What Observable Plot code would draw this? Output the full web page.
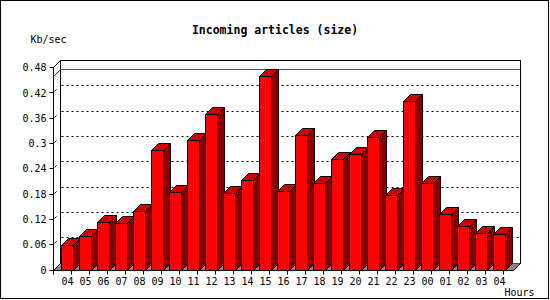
<!DOCTYPE html>
<html>
<head>
<meta charset="utf-8">
<script src="https://cdn.jsdelivr.net/npm/d3@7"></script>
<script src="https://cdn.jsdelivr.net/npm/@observablehq/plot@0.6"></script>
<style>
  html, body { margin: 0; padding: 0; background: white; }
</style>
</head>
<body>
<div id="chart"></div>
<script>
const hours = ["04","05","06","07","08","09","10","11","12","13","14","15","16","17","18","19","20","21","22","23","00","01","02","03","04"];
const kbPerSec = [0.057,0.080,0.113,0.111,0.139,0.284,0.184,0.307,0.369,0.182,0.213,0.459,0.187,0.319,0.206,0.262,0.274,0.314,0.177,0.400,0.206,0.132,0.102,0.087,0.083];
const yTickValues = [0,0.06,0.12,0.18,0.24,0.3,0.36,0.42,0.48];
const yTickLabels = ["0","0.06","0.12","0.18","0.24","0.3","0.36","0.42","0.48"];
const titleText = "Incoming articles (size)";
const yLabel = "Kb/sec";
const xLabel = "Hours";

const data = hours.map((h, i) => ({i, h, v: kbPerSec[i]}));
const maxV = d3.max(kbPerSec);
const FONT = "DejaVu Sans Mono";

function scene(index, scales, values, dim) {
  const X = scales.x, Y = scales.y;
  const px = v => Math.floor(v) + 0.5;
  const bw = X.bandwidth ? X.bandwidth() : 12;
  const step = X.step ? X.step() : 18.4;
  const D = 7;
  const xL = dim.marginLeft, xR = dim.width - dim.marginRight;
  const y0 = px(Y(0)), yT = px(Y(yTickValues[yTickValues.length - 1]));
  const aL = px(xL), aR = px(xR);
  const g = d3.create("svg:g");
  const poly = (pts, fill, stroke) => g.append("polygon")
    .attr("points", pts.map(p => p.join(",")).join(" "))
    .attr("fill", fill).attr("stroke", stroke || "none").attr("stroke-width", 1);
  const line = (x1, y1, x2, y2, stroke, dash) => {
    const l = g.append("line").attr("x1", x1).attr("y1", y1).attr("x2", x2).attr("y2", y2)
      .attr("stroke", stroke).attr("stroke-width", 1);
    if (dash) l.attr("stroke-dasharray", dash);
    return l;
  };
  // outer border
  g.append("rect").attr("x", 0.5).attr("y", 0.5).attr("width", 548).attr("height", 298)
    .attr("fill", "none").attr("stroke", "black");
  // back wall
  g.append("rect").attr("x", aL + D).attr("y", yT - D).attr("width", aR - aL).attr("height", y0 - yT)
    .attr("fill", "white").attr("stroke", "black");
  // gridlines on back wall
  yTickValues.slice(1, -1).forEach(v => {
    const yy = px(Y(v)) - D;
    line(aL + D + 1, yy, aR + D, yy, "black", "2,3");
    line(aL + 1, px(Y(v)) - 1, aL + 3, px(Y(v)) - 3, "black");
  });
  // max line
  const ym = px(Y(maxV));
  line(aL + D, ym - D, aR + D, ym - D, "red");
  line(aL, ym, aL + D, ym - D, "red");
  // floor
  poly([[aL, y0], [aR, y0], [aR + D, y0 - D], [aL + D, y0 - D]], "#888888", "none");
  line(aR, y0, aR + D, y0 - D, "black");
  line(aL, y0, aL + D, y0 - D, "black");
  line(aL, yT, aL + D, yT - D, "black");
  // bars
  index.forEach(k => {
    const d = data[k];
    const x0 = px(X(d.i)), x1 = px(X(d.i) + bw);
    const yt = px(Y(d.v));
    poly([[x1, yt], [x1 + D, yt - D], [x1 + D, y0 - D], [x1, y0]], "#800000", "black");
    poly([[x0, yt], [x1, yt], [x1 + D, yt - D], [x0 + D, yt - D]], "#cc0000", "black");
    g.append("rect").attr("x", x0).attr("y", yt).attr("width", x1 - x0).attr("height", y0 - yt)
      .attr("fill", "#ff0000").attr("stroke", "black");
  });
  // axes
  line(aL, yT, aL, y0, "black");
  line(aL, y0, aR, y0, "black");
  yTickValues.forEach(v => line(aL - 4, px(Y(v)), aL, px(Y(v)), "black"));
  for (let i = 0; i <= hours.length; i++) {
    const xb = px(xL + i * step);
    line(xb, y0, xb, y0 + 4, "black");
  }
  return g.node();
}

const chart = Plot.plot({
  width: 550,
  height: 300,
  marginLeft: 53,
  marginRight: 37,
  marginTop: 67.5,
  marginBottom: 30,
  style: {fontFamily: FONT, fontSize: "10px", background: "white", color: "black"},
  x: {type: "band", domain: d3.range(hours.length), paddingInner: 0.35, paddingOuter: 0.175, axis: null},
  y: {domain: [0, 0.48], axis: null},
  marks: [
    Plot.barY(data, {x: "i", y: "v", render: scene}),
    Plot.text(yTickValues, {y: d => d, text: (d, i) => yTickLabels[i], frameAnchor: "left", dx: -7, textAnchor: "end", fill: "black"}),
    Plot.text(data, {x: "i", text: "h", frameAnchor: "bottom", dy: 14.5, lineAnchor: "bottom", fill: "black"}),
    Plot.text([titleText], {frameAnchor: "top", dx: -8.5, dy: -34.5, lineAnchor: "bottom", fontWeight: "bold", fontSize: 11.5, fill: "black"}),
    Plot.text([yLabel], {frameAnchor: "top-left", dx: -23, dy: -25.5, lineAnchor: "bottom", textAnchor: "start", fill: "black"}),
    Plot.text([xLabel], {frameAnchor: "bottom-right", dx: 21, dy: 25, lineAnchor: "bottom", textAnchor: "end", fill: "black"})
  ]
});
document.getElementById("chart").appendChild(chart);
</script>
</body>
</html>
